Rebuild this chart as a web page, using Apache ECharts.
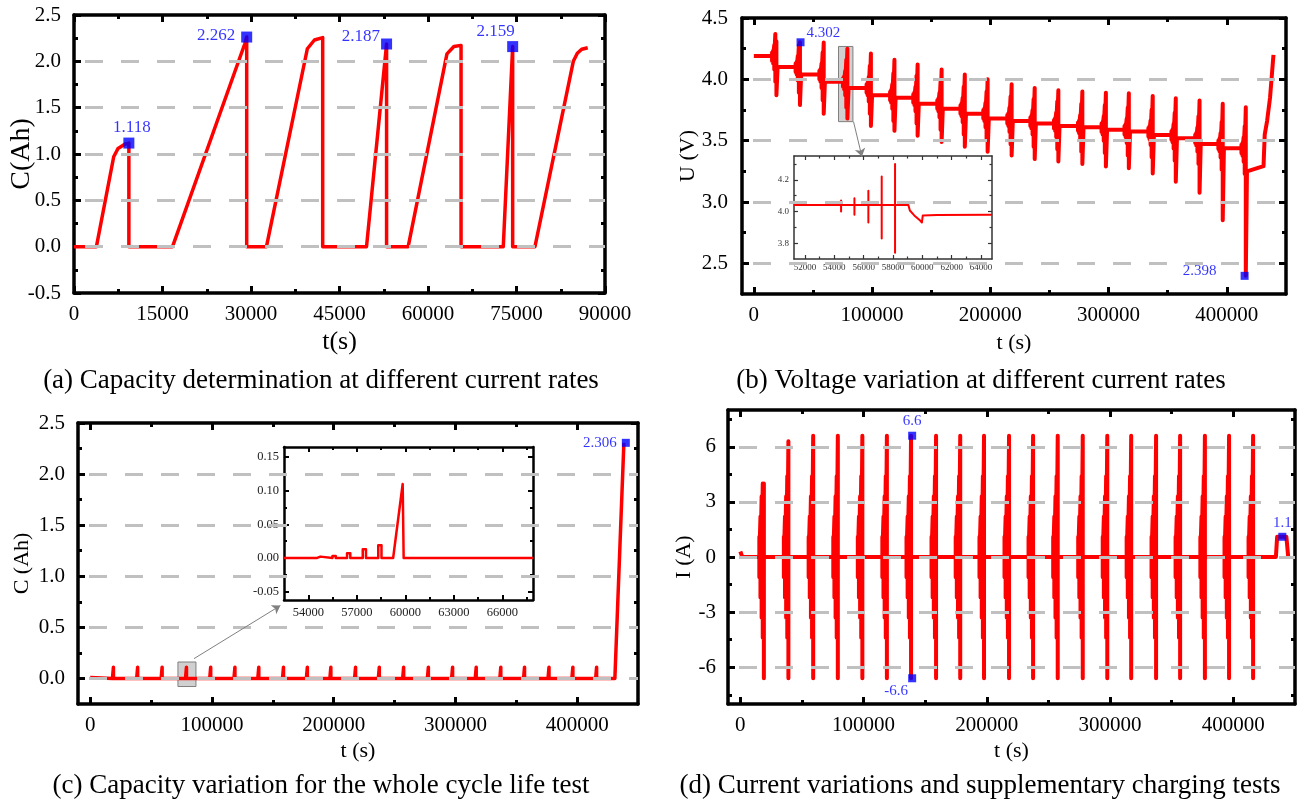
<!DOCTYPE html>
<html>
<head>
<meta charset="utf-8">
<title>Battery test curves</title>
<script src="https://cdn.jsdelivr.net/npm/echarts@6.0.0/dist/echarts.min.js"></script>
<style>
html, body { margin: 0; padding: 0; background: #fff; }
#main { width: 1303px; height: 803px; }
</style>
</head>
<body>
<div id="main"></div>
<script>
// ---------- values ----------
// (a) capacity at different current rates
var A_T = [0, 3800, 6730, 7460, 8600, 9300, 9300, 16700, 28950, 29270, 29270, 32620, 39550, 40750, 42150, 42150,
           49580, 52980, 52980, 56640, 63210, 64390, 65600, 65600, 72760, 74350, 74350, 78130, 84630, 85310, 86050, 87070];
var A_C = [0, 0, 0.97, 1.06, 1.105, 1.118, 0, 0, 2.19, 2.262, 0, 0, 2.136, 2.23, 2.256, 0,
           0, 2.187, 0, 0, 2.08, 2.16, 2.172, 0, 0, 2.159, 0, 0, 2.0, 2.087, 2.13, 2.147];
var A_MARK_T = [9300, 29270, 52980, 74350];
var A_MARK_C = [1.118, 2.262, 2.187, 2.159];
var A_MARK_TEXT = ['1.118', '2.262', '2.187', '2.159'];

// pulse test blocks, same times in (b), (c), (d)
var CYCLE_T = [19100, 39000, 59100, 79100, 99000, 118900, 138500, 158800, 178400, 197700, 218000,
               237500, 257500, 277800, 297700, 317100, 337300, 356800, 376900, 396500, 416000];
var PULSE_DT = [-3680, -2770, -1820, -910];

// (b) voltage
var B_START = 4.19;
var B_TOP = [4.31, 4.302, 4.30, 4.25, 4.21, 4.16, 4.12, 4.08, 4.04, 4.00, 3.96, 3.93, 3.91, 3.90, 3.89, 3.887, 3.865, 3.846, 3.827, 3.80, 3.773];
var B_BOT = [3.87, 3.79, 3.72, 3.68, 3.62, 3.58, 3.54, 3.49, 3.45, 3.41, 3.38, 3.35, 3.33, 3.31, 3.29, 3.275, 3.233, 3.165, 3.075, 2.852, 2.398];
var B_LEVEL = [4.10, 4.04, 3.98, 3.93, 3.87, 3.85, 3.80, 3.76, 3.72, 3.68, 3.66, 3.64, 3.62, 3.61, 3.59, 3.574, 3.547, 3.52, 3.473, 3.438, 3.25];
var B_PULSE_UP = [0.029, 0.044, 0.09, 0.18];
var B_PULSE_DN = [0.04, 0.06, 0.11, 0.21];
var B_TAIL_T = [431000, 431500, 432000, 434000, 436500, 439400];
var B_TAIL_U = [3.293, 3.30, 3.55, 3.66, 3.85, 4.20];
var B_MARK_T = [39500, 415000];
var B_MARK_U = [4.302, 2.398];
var B_MARK_TEXT = ['4.302', '2.398'];

// (b) inset
var IB_BASE = 4.04;
var IB_PULSE_T = [54460, 55370, 56320, 57230, 58140];
var IB_PULSE_HI = [4.069, 4.084, 4.13, 4.22, 4.30];
var IB_PULSE_LO = [4.00, 3.98, 3.93, 3.83, 3.74];
var IB_TAIL_T = [59050, 59150, 59450, 59850, 59970, 60030, 61000, 64750];
var IB_TAIL_U = [4.04, 4.006, 3.975, 3.943, 3.93, 3.975, 3.977, 3.98];

// (c) capacity, whole test
var C_START = 0.01;
var C_SPIKE = [0.11, 0.11, 0.11, 0.11, 0.11, 0.11, 0.11, 0.11, 0.11, 0.11, 0.11,
               0.11, 0.11, 0.11, 0.11, 0.11, 0.11, 0.11, 0.11, 0.11, 0.11];
var C_TAIL_T = [431000, 438400];
var C_TAIL_C = [0, 2.306];
var C_MARK_T = [440000];
var C_MARK_C = [2.306];
var C_MARK_TEXT = ['2.306'];

// (c) inset
var IC_PULSE_T = [54550, 55500, 56400, 57370, 58330];
var IC_PULSE_END = [54750, 55700, 56600, 57570, 58530];
var IC_PULSE_H = [0.002, 0.003, 0.007, 0.013, 0.019];
var IC_TAIL_T = [59250, 59840, 59900, 67900];
var IC_TAIL_C = [0, 0.11, 0, 0];

// (d) current
var D_START_T = [0, 1000, 1600];
var D_START_I = [0.3, 0.25, 0];
var D_MAX = [4.0, 6.3, 6.6, 6.6, 6.6, 6.6, 6.6, 6.6, 6.6, 6.6, 6.6, 6.6, 6.6, 6.6, 6.6, 6.6, 6.6, 6.6, 6.6, 6.6, 6.6];
var D_MIN = [-6.6, -6.6, -6.6, -6.6, -6.6, -6.6, -6.6, -6.6, -6.6, -6.6, -6.6, -6.6, -6.6, -6.6, -6.6, -6.6, -6.6, -6.6, -6.6, -6.6, -6.6];
var D_PULSE = [1.1, 2.2, 3.3, 4.4];
var D_TAIL_T = [434500, 435500, 443000, 444500, 445000];
var D_TAIL_I = [0, 1.1, 1.1, 0, 0];
var D_MARK_T = [139400, 139400, 439700];
var D_MARK_I = [6.6, -6.6, 1.1];
var D_MARK_TEXT = ['6.6', '-6.6', '1.1'];

// ticks and grid lines
var A_X_TICKS = [0, 15000, 30000, 45000, 60000, 75000, 90000];
var A_X_MINOR = [7500, 22500, 37500, 52500, 67500, 82500];
var A_Y_TICKS = [-0.5, 0, 0.5, 1, 1.5, 2, 2.5];
var A_Y_MINOR = [-0.25, 0.25, 0.75, 1.25, 1.75, 2.25];
var T_TICKS = [0, 100000, 200000, 300000, 400000];
var T_MINOR = [50000, 150000, 250000, 350000];
var B_Y_TICKS = [2.5, 3, 3.5, 4, 4.5];
var B_Y_MINOR = [2.75, 3.25, 3.75, 4.25];
var C_Y_TICKS = [0, 0.5, 1, 1.5, 2, 2.5];
var C_Y_MINOR = [0.25, 0.75, 1.25, 1.75, 2.25];
var D_Y_TICKS = [-6, -3, 0, 3, 6];
var D_Y_MINOR = [-7.5, -4.5, -1.5, 1.5, 4.5, 7.5];
var IB_X_TICKS = [52000, 54000, 56000, 58000, 60000, 62000, 64000];
var IB_X_MINOR = [53000, 55000, 57000, 59000, 61000, 63000];
var IB_Y_TICKS = [3.8, 4.0, 4.2];
var IB_Y_MINOR = [3.9, 4.1, 4.3];
var IC_X_TICKS = [54000, 57000, 60000, 63000, 66000];
var IC_X_MINOR = [55500, 58500, 61500, 64500, 67500];
var IC_Y_TICKS = [-0.05, 0, 0.05, 0.1, 0.15];
var IC_Y_MINOR = [-0.025, 0.025, 0.075, 0.125];
var A_GRID = [0, 0.5, 1, 1.5, 2];
var B_GRID = [2.5, 3, 3.5, 4];
var C_GRID = [0, 0.5, 1, 1.5, 2];
var D_GRID = [-6, -3, 0, 3, 6];

// ---------- chart ----------
var FONT = '"Liberation Serif", "Times New Roman", serif';
var RED = '#ff0000', BLUE = '#0000ff';

var grids = [], xAxes = [], yAxes = [], series = [];

var MAIN = {frameColor: '#000', frameWidth: 3.5, tickWidth: 3, tickLen: 7, minorLen: 4,
            labelSize: 21, labelColor: '#000', nameSize: 22};
var INB = {frameColor: '#333', frameWidth: 1.5, tickWidth: 1.2, tickLen: 4, minorLen: 2.5,
           labelSize: 9, labelColor: '#333', labelMargin: 5, nameSize: 9, name: '', nameGap: 10};
var INC = {frameColor: '#000', frameWidth: 2.5, tickWidth: 2, tickLen: 5, minorLen: 3,
           labelSize: 12.5, labelColor: '#222', labelMargin: 5, nameSize: 12, name: '', nameGap: 10};

function ext(base, o) { return Object.assign({}, base, o); }
var fmtInt = function (v) { return String(Math.round(v)); };
var fmt1 = function (v) { return v.toFixed(1); };
var fmt2 = function (v) { return v.toFixed(2); };

function frameAxis(grid, pos, ax, major) {
  var showLabel = major && (pos === 'bottom' || pos === 'left');
  return {
    type: 'value', gridIndex: grid, position: pos, min: ax.min, max: ax.max,
    axisLine: {show: major, onZero: false, lineStyle: {color: ax.frameColor, width: ax.frameWidth}},
    axisTick: {show: true, inside: true, length: major ? ax.tickLen : ax.minorLen,
               customValues: major ? ax.ticks : ax.minor,
               lineStyle: {color: ax.frameColor, width: ax.tickWidth}},
    axisLabel: {show: showLabel, customValues: ax.ticks, showMinLabel: true, showMaxLabel: true,
                margin: ax.labelMargin, fontFamily: FONT, fontSize: ax.labelSize, color: ax.labelColor,
                formatter: ax.fmt},
    splitLine: {show: false},
    name: showLabel ? ax.name : '', nameLocation: 'middle', nameGap: ax.nameGap, nameMoveOverlap: false,
    nameTextStyle: {fontFamily: FONT, fontSize: ax.nameSize, color: '#000'}
  };
}

function addPanel(rect, xa, ya) {
  var g = grids.length;
  grids.push(ext({outerBoundsMode: 'none', containLabel: false}, rect));
  grids.push(ext({outerBoundsMode: 'none', containLabel: false}, rect));
  var p = {x: xAxes.length, y: yAxes.length};
  xAxes.push(frameAxis(g, 'bottom', xa, true), frameAxis(g, 'top', xa, true),
             frameAxis(g + 1, 'bottom', xa, false), frameAxis(g + 1, 'top', xa, false));
  yAxes.push(frameAxis(g, 'left', ya, true), frameAxis(g, 'right', ya, true),
             frameAxis(g + 1, 'left', ya, false), frameAxis(g + 1, 'right', ya, false));
  return p;
}

function gridLines(p, values) {
  series.push({
    type: 'line', xAxisIndex: p.x, yAxisIndex: p.y, data: [], z: 1, silent: true,
    markLine: {
      silent: true, symbol: ['none', 'none'], label: {show: false},
      lineStyle: {color: '#c0c0c0', width: 3, type: [18, 18], dashOffset: 25},
      emphasis: {disabled: true},
      data: values.map(function (v) { return {yAxis: v}; })
    }
  });
}

function redLine(p, data, width) {
  series.push({
    type: 'line', xAxisIndex: p.x, yAxisIndex: p.y, data: data, z: 2,
    showSymbol: false, symbol: 'none', silent: true,
    lineStyle: {color: RED, width: width, join: 'round'}
  });
}

function markers(p, ts, vs, texts, size, fontSize, labelStyles) {
  series.push({
    type: 'scatter', xAxisIndex: p.x, yAxisIndex: p.y, z: 4, clip: false, silent: true,
    symbol: 'rect', symbolSize: size, itemStyle: {color: BLUE},
    label: {show: true, color: BLUE, fontFamily: FONT, fontSize: fontSize},
    data: ts.map(function (t, i) {
      return {value: [t, vs[i]], label: ext({formatter: texts[i]}, labelStyles[i])};
    })
  });
}

function zoomBox(p, box, arrow) {
  series.push({
    type: 'line', xAxisIndex: p.x, yAxisIndex: p.y, data: [], z: 5, silent: true,
    markArea: {
      silent: true, label: {show: false},
      itemStyle: {color: 'rgba(150,150,150,0.45)', borderColor: '#7f7f7f', borderWidth: 1},
      data: [[{coord: box[0]}, {coord: box[1]}]]
    },
    markLine: {
      silent: true, symbol: ['none', 'arrow'], symbolSize: 8, label: {show: false},
      lineStyle: {color: '#808080', width: 1, type: 'solid'},
      data: [[{coord: arrow[0]}, {coord: arrow[1]}]]
    }
  });
}

// ---- panel (a)
var pa = addPanel({left: 74, top: 15, width: 531, height: 278},
  ext(MAIN, {min: 0, max: 90000, ticks: A_X_TICKS, minor: A_X_MINOR, fmt: fmtInt, labelMargin: 11,
             name: 't(s)', nameSize: 26, nameGap: 36}),
  ext(MAIN, {min: -0.5, max: 2.5, ticks: A_Y_TICKS, minor: A_Y_MINOR, fmt: fmt1, labelMargin: 13,
             name: 'C(Ah)', nameSize: 28, nameGap: 38}));
gridLines(pa, A_GRID);
redLine(pa, A_T.map(function (t, i) { return [t, A_C[i]]; }), 3.5);
markers(pa, A_MARK_T, A_MARK_C, A_MARK_TEXT, 11, 17, [
  {position: 'top', distance: 2, offset: [3, 0]},
  {position: 'left', distance: 6, offset: [0, -2]},
  {position: 'left', distance: 1, offset: [0, -7]},
  {position: 'top', distance: 1, offset: [-17, 0]}
]);

// ---- panel (b)
var pb = addPanel({left: 742, top: 18, width: 544, height: 276},
  ext(MAIN, {min: -10000, max: 450000, ticks: T_TICKS, minor: T_MINOR, fmt: fmtInt, labelMargin: 11,
             name: 't (s)', nameGap: 38}),
  ext(MAIN, {min: 2.25, max: 4.5, ticks: B_Y_TICKS, minor: B_Y_MINOR, fmt: fmt1, labelMargin: 14,
             name: 'U (V)', nameGap: 43}));
gridLines(pb, B_GRID);
var bData = [[0, B_START]];
var level = B_START;
CYCLE_T.forEach(function (t, k) {
  PULSE_DT.forEach(function (dt, j) {
    bData.push([t + dt, level], [t + dt, level + B_PULSE_UP[j]], [t + dt, level - B_PULSE_DN[j]], [t + dt, level]);
  });
  bData.push([t, level], [t, B_TOP[k]], [t, B_BOT[k]], [t + 1000, B_LEVEL[k]]);
  level = B_LEVEL[k];
});
B_TAIL_T.forEach(function (t, i) { bData.push([t, B_TAIL_U[i]]); });
redLine(pb, bData, 4);
zoomBox(pb, [[71600, 4.268], [83800, 3.655]], [[84300, 3.655], [91400, 3.37]]);
markers(pb, B_MARK_T, B_MARK_U, B_MARK_TEXT, 8, 15, [
  {position: 'right', distance: 2, offset: [0, -9]},
  {position: 'left', distance: 24, offset: [0, -5]}
]);

// ---- panel (b) inset
var pib = addPanel({left: 794, top: 156, width: 198, height: 103},
  ext(INB, {min: 51250, max: 64750, ticks: IB_X_TICKS, minor: IB_X_MINOR, fmt: fmtInt, labelMargin: 4}),
  ext(INB, {min: 3.7, max: 4.35, ticks: IB_Y_TICKS, minor: IB_Y_MINOR, fmt: fmt1}));
var ibData = [[51250, IB_BASE]];
IB_PULSE_T.forEach(function (t, i) {
  ibData.push([t, IB_BASE], [t, IB_PULSE_HI[i]], [t, IB_PULSE_LO[i]], [t, IB_BASE]);
});
IB_TAIL_T.forEach(function (t, i) { ibData.push([t, IB_TAIL_U[i]]); });
redLine(pib, ibData, 2);

// ---- panel (c)
var pc = addPanel({left: 78, top: 423, width: 560, height: 281},
  ext(MAIN, {min: -10000, max: 450000, ticks: T_TICKS, minor: T_MINOR, fmt: fmtInt, labelMargin: 11,
             name: 't (s)', nameGap: 36}),
  ext(MAIN, {min: -0.25, max: 2.5, ticks: C_Y_TICKS, minor: C_Y_MINOR, fmt: fmt1, labelMargin: 13,
             name: 'C (Ah)', nameGap: 45}));
gridLines(pc, C_GRID);
var cData = [[0, C_START], [1500, 0]];
CYCLE_T.forEach(function (t, k) { cData.push([t - 800, 0], [t, C_SPIKE[k]], [t, 0]); });
C_TAIL_T.forEach(function (t, i) { cData.push([t, C_TAIL_C[i]]); });
redLine(pc, cData, 3.5);
zoomBox(pc, [[72100, 0.161], [86900, -0.079]], [[85300, 0.194], [156200, 0.713]]);
markers(pc, C_MARK_T, C_MARK_C, C_MARK_TEXT, 8, 15, [
  {position: 'left', distance: 5, offset: [0, 0]}
]);

// ---- panel (c) inset
var pic = addPanel({left: 284, top: 447, width: 249, height: 153},
  ext(INC, {min: 52500, max: 67900, ticks: IC_X_TICKS, minor: IC_X_MINOR, fmt: fmtInt, labelMargin: 6}),
  ext(INC, {min: -0.0625, max: 0.165, ticks: IC_Y_TICKS, minor: IC_Y_MINOR, fmt: fmt2}));
var icData = [[52500, 0]];
IC_PULSE_T.forEach(function (t, i) {
  icData.push([t, 0], [t, IC_PULSE_H[i]], [IC_PULSE_END[i], IC_PULSE_H[i]], [IC_PULSE_END[i], 0]);
});
IC_TAIL_T.forEach(function (t, i) { icData.push([t, IC_TAIL_C[i]]); });
redLine(pic, icData, 2.5);

// ---- panel (d)
var pd = addPanel({left: 728, top: 410, width: 567, height: 294},
  ext(MAIN, {min: -10000, max: 450000, ticks: T_TICKS, minor: T_MINOR, fmt: fmtInt, labelMargin: 11,
             name: 't (s)', nameGap: 36}),
  ext(MAIN, {min: -8, max: 8, ticks: D_Y_TICKS, minor: D_Y_MINOR, fmt: fmtInt, labelMargin: 12,
             name: 'I (A)', nameGap: 33}));
gridLines(pd, D_GRID);
var dData = D_START_T.map(function (t, i) { return [t, D_START_I[i]]; });
CYCLE_T.forEach(function (t, k) {
  PULSE_DT.forEach(function (dt, j) {
    var a = D_PULSE[j];
    dData.push([t + dt, 0], [t + dt, Math.min(a, D_MAX[k])], [t + dt, -a], [t + dt, 0]);
  });
  dData.push([t, 0], [t, D_MAX[k]], [t, D_MIN[k]], [t, 0]);
});
D_TAIL_T.forEach(function (t, i) { dData.push([t, D_TAIL_I[i]]); });
redLine(pd, dData, 4);
markers(pd, D_MARK_T, D_MARK_I, D_MARK_TEXT, 8, 15, [
  {position: 'top', distance: 3},
  {position: 'bottom', distance: 1, offset: [-16, 0]},
  {position: 'top', distance: 2}
]);

// captions
function caption(x, y, text) {
  return {type: 'text', x: x, y: y, silent: true,
          style: {text: text, font: '27px ' + FONT, fill: '#000',
                  align: 'center', verticalAlign: 'middle', textAlign: 'center', textVerticalAlign: 'middle'}};
}

var chart = echarts.init(document.getElementById('main'), null, {renderer: 'canvas'});
chart.setOption({
  backgroundColor: '#fff',
  animation: false,
  grid: grids,
  xAxis: xAxes,
  yAxis: yAxes,
  series: series,
  graphic: [
    caption(321, 381, '(a) Capacity determination at different current rates'),
    caption(981, 381, '(b) Voltage variation at different current rates'),
    caption(321, 786, '(c) Capacity variation for the whole cycle life test'),
    caption(980, 786, '(d) Current variations and supplementary charging tests')
  ]
});
</script>
</body>
</html>
